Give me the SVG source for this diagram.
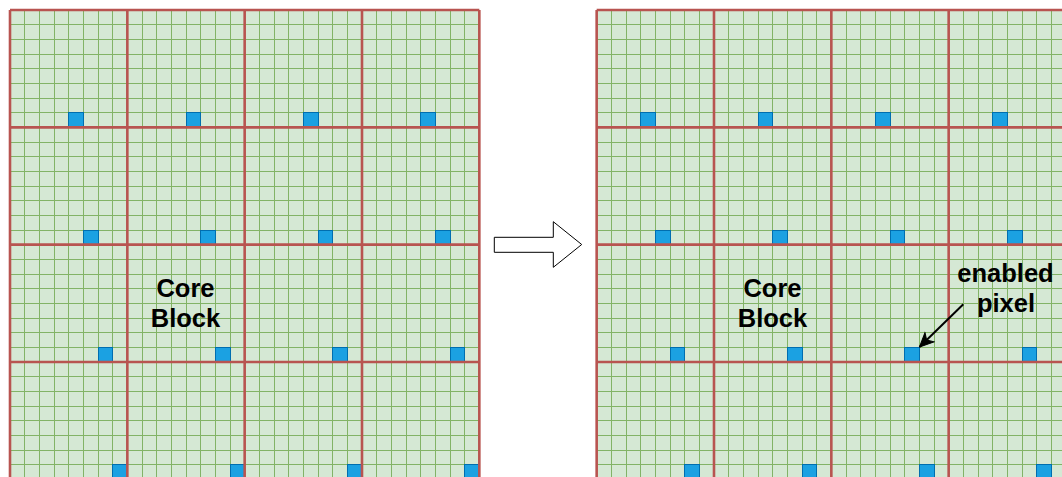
<svg xmlns="http://www.w3.org/2000/svg" xmlns:xlink="http://www.w3.org/1999/xlink" width="1062" height="477" viewBox="0 0 1062 477">
  <style>
    .bg { fill: #d5e8d4; stroke: none; }
    .grid { fill: none; stroke: #82b366; stroke-width: 1; shape-rendering: crispEdges; }
    .block { fill: none; stroke: #b85450; stroke-width: 2.6; }
    .px { fill: #1ba1e2; stroke: #006eaf; stroke-width: 1; shape-rendering: crispEdges; }
    .lbl { font-family: "Liberation Sans", Arial, Helvetica, sans-serif; font-weight: bold; font-size: 25.5px; fill: #000000; text-anchor: middle; }
    .bigarrow { fill: #ffffff; stroke: #000000; stroke-width: 1; }
    .conn { fill: none; stroke: #000000; stroke-width: 2; }
  </style>
  <defs>
    <marker id="classic" markerUnits="userSpaceOnUse" viewBox="-15 -8 16 16" refX="0" refY="0" markerWidth="16" markerHeight="16" orient="auto">
      <path d="M0,0 L-14,-6.5 L-10,0 L-14,6.5 Z" fill="#000000" stroke="#000000" stroke-width="1"/>
    </marker>
    <g id="panelBase">
      <rect class="bg" x="0" y="0" width="469.333" height="470"/>
      <path class="grid" d="M0,0v470m14.6667,-470v470m14.6667,-470v470m14.6667,-470v470m14.6667,-470v470m14.6667,-470v470m14.6667,-470v470m14.6667,-470v470m14.6667,-470v470m14.6667,-470v470m14.6667,-470v470m14.6667,-470v470m14.6667,-470v470m14.6667,-470v470m14.6667,-470v470m14.6667,-470v470m14.6667,-470v470m14.6667,-470v470m14.6667,-470v470m14.6667,-470v470m14.6667,-470v470m14.6667,-470v470m14.6667,-470v470m14.6667,-470v470m14.6667,-470v470m14.6667,-470v470m14.6667,-470v470m14.6667,-470v470m14.6667,-470v470m14.6667,-470v470m14.6667,-470v470m14.6667,-470v470m14.6667,-470v470"/>
      <path class="grid" d="M0,0h469.333m-469.333,14.6667h469.333m-469.333,14.6667h469.333m-469.333,14.6667h469.333m-469.333,14.6667h469.333m-469.333,14.6667h469.333m-469.333,14.6667h469.333m-469.333,14.6667h469.333m-469.333,14.6667h469.333m-469.333,14.6667h469.333m-469.333,14.6667h469.333m-469.333,14.6667h469.333m-469.333,14.6667h469.333m-469.333,14.6667h469.333m-469.333,14.6667h469.333m-469.333,14.6667h469.333m-469.333,14.6667h469.333m-469.333,14.6667h469.333m-469.333,14.6667h469.333m-469.333,14.6667h469.333m-469.333,14.6667h469.333m-469.333,14.6667h469.333m-469.333,14.6667h469.333m-469.333,14.6667h469.333m-469.333,14.6667h469.333m-469.333,14.6667h469.333m-469.333,14.6667h469.333m-469.333,14.6667h469.333m-469.333,14.6667h469.333m-469.333,14.6667h469.333m-469.333,14.6667h469.333m-469.333,14.6667h469.333m-469.333,14.6667h469.333"/>
    </g>
    <path id="blockLines" class="block" d="M0,0V470M117.333,0V470M234.667,0V470M352,0V470M469.333,0V470M0,0H469.333M0,117.333H469.333M0,234.667H469.333M0,352H469.333M0,469.333H469.333"/>
  </defs>

  <g id="panel-left">
    <use xlink:href="#panelBase" href="#panelBase" transform="translate(10,10)"/>
    <g id="pixels-left">
      <rect class="px" x="68.667" y="112.667" width="14.667" height="14.667"/>
      <rect class="px" x="186" y="112.667" width="14.667" height="14.667"/>
      <rect class="px" x="303.333" y="112.667" width="14.667" height="14.667"/>
      <rect class="px" x="420.667" y="112.667" width="14.667" height="14.667"/>
      <rect class="px" x="83.333" y="230" width="14.667" height="14.667"/>
      <rect class="px" x="200.667" y="230" width="14.667" height="14.667"/>
      <rect class="px" x="318" y="230" width="14.667" height="14.667"/>
      <rect class="px" x="435.333" y="230" width="14.667" height="14.667"/>
      <rect class="px" x="98" y="347.333" width="14.667" height="14.667"/>
      <rect class="px" x="215.333" y="347.333" width="14.667" height="14.667"/>
      <rect class="px" x="332.667" y="347.333" width="14.667" height="14.667"/>
      <rect class="px" x="450" y="347.333" width="14.667" height="14.667"/>
      <rect class="px" x="112.667" y="464.667" width="14.667" height="14.667"/>
      <rect class="px" x="230" y="464.667" width="14.667" height="14.667"/>
      <rect class="px" x="347.333" y="464.667" width="14.667" height="14.667"/>
      <rect class="px" x="464.667" y="464.667" width="14.667" height="14.667"/>
    </g>
    <use xlink:href="#blockLines" href="#blockLines" transform="translate(10,10)"/>
  </g>

  <g id="panel-right">
    <use xlink:href="#panelBase" href="#panelBase" transform="translate(596.667,10)"/>
    <g id="pixels-right">
      <rect class="px" x="640.667" y="112.667" width="14.667" height="14.667"/>
      <rect class="px" x="758" y="112.667" width="14.667" height="14.667"/>
      <rect class="px" x="875.333" y="112.667" width="14.667" height="14.667"/>
      <rect class="px" x="992.667" y="112.667" width="14.667" height="14.667"/>
      <rect class="px" x="655.333" y="230" width="14.667" height="14.667"/>
      <rect class="px" x="772.667" y="230" width="14.667" height="14.667"/>
      <rect class="px" x="890" y="230" width="14.667" height="14.667"/>
      <rect class="px" x="1007.333" y="230" width="14.667" height="14.667"/>
      <rect class="px" x="670" y="347.333" width="14.667" height="14.667"/>
      <rect class="px" x="787.333" y="347.333" width="14.667" height="14.667"/>
      <rect class="px" x="904.667" y="347.333" width="14.667" height="14.667"/>
      <rect class="px" x="1022" y="347.333" width="14.667" height="14.667"/>
      <rect class="px" x="684.667" y="464.667" width="14.667" height="14.667"/>
      <rect class="px" x="802" y="464.667" width="14.667" height="14.667"/>
      <rect class="px" x="919.333" y="464.667" width="14.667" height="14.667"/>
      <rect class="px" x="1036.667" y="464.667" width="14.667" height="14.667"/>
    </g>
    <use xlink:href="#blockLines" href="#blockLines" transform="translate(596.667,10)"/>
  </g>

  <g id="label-core-left">
    <text class="lbl" x="185.5" y="297">Core</text>
    <text class="lbl" x="185.5" y="327">Block</text>
  </g>

  <g id="label-core-right">
    <text class="lbl" x="772.5" y="297">Core</text>
    <text class="lbl" x="772.5" y="327">Block</text>
  </g>

  <g id="label-enabled-pixel">
    <text class="lbl" x="1005.5" y="282">enabled</text>
    <text class="lbl" x="1006" y="312">pixel</text>
  </g>

  <g id="transition-arrow">
    <polygon class="bigarrow" points="494.3,237.3 553.3,237.3 553.3,221.7 581.7,244.5 553.3,267.3 553.3,252.3 494.3,252.3"/>
  </g>

  <g id="connectors">
    <line class="conn" x1="963.3" y1="304.3" x2="919.5" y2="347" marker-end="url(#classic)"/>
  </g>
</svg>
